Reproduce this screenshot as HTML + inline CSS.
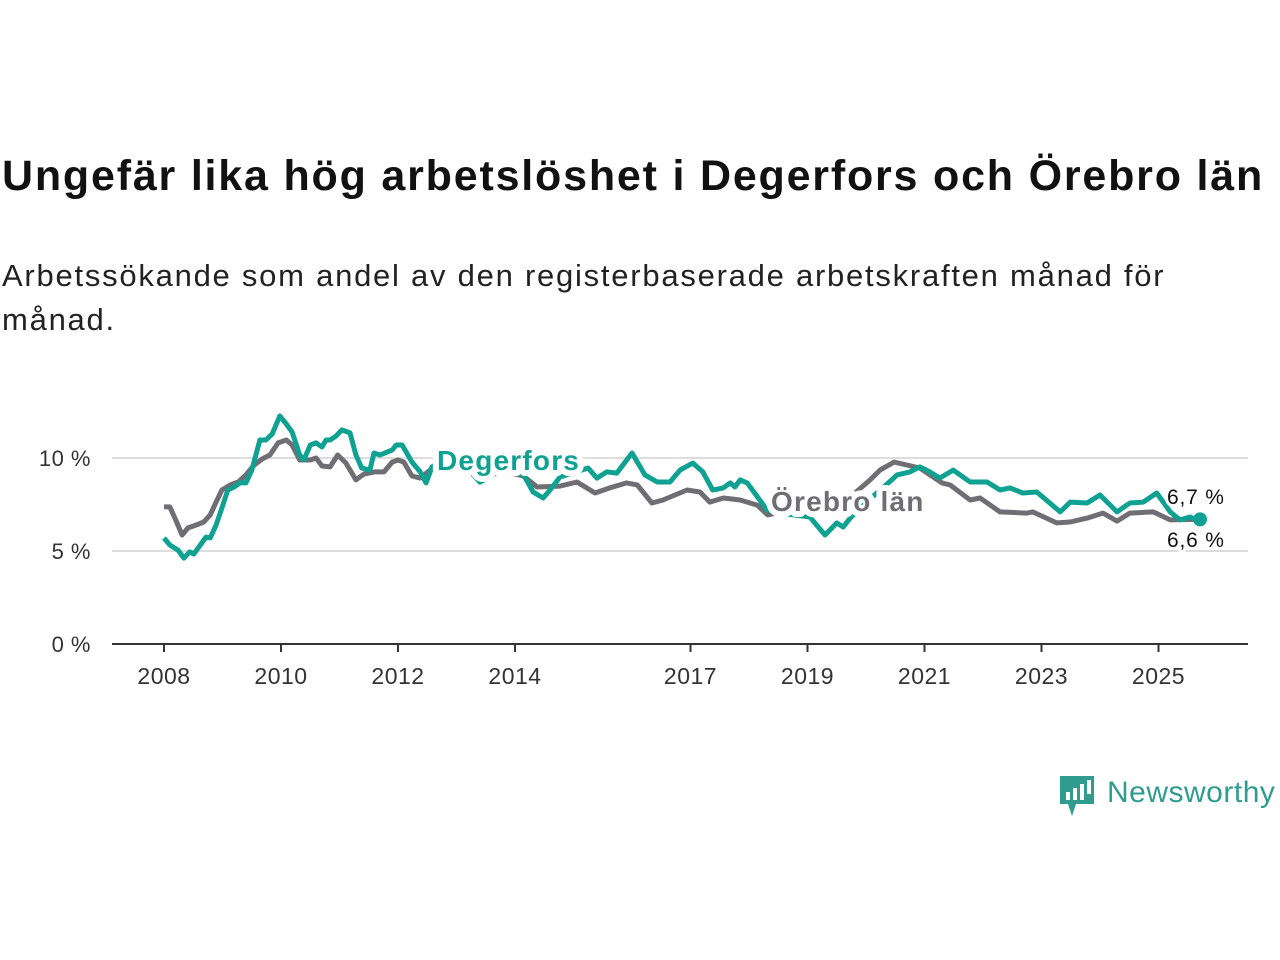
<!DOCTYPE html>
<html><head><meta charset="utf-8">
<style>
body{margin:0;background:#fff;width:1280px;height:960px;overflow:hidden;font-family:"Liberation Sans","DejaVu Sans",sans-serif;}
#title{position:absolute;left:2px;top:152px;font-size:43px;font-weight:bold;color:#111;letter-spacing:1.8px;white-space:nowrap}
#sub{position:absolute;left:2px;top:254px;font-size:31px;line-height:44px;color:#222;width:1200px;letter-spacing:1.75px}
svg{position:absolute;left:0;top:0}
</style></head><body>
<div id="title">Ungefär lika hög arbetslöshet i Degerfors och Örebro län</div>
<div id="sub">Arbetssökande som andel av den registerbaserade arbetskraften månad för månad.</div>
<svg id="chart" width="1280" height="960"></svg>
<script>
const yTicks=[0,5,10];
const yTickLabels=["0 %","5 %","10 %"];
const xTicks=[2008,2010,2012,2014,2017,2019,2021,2023,2025];
const grayYears=[2008,2008.1,2008.2,2008.31,2008.41,2008.55,2008.68,2008.79,2008.89,2008.99,2009.13,2009.27,2009.4,2009.54,2009.68,2009.81,2009.95,2010.09,2010.19,2010.32,2010.5,2010.6,2010.7,2010.84,2010.97,2011.11,2011.28,2011.42,2011.6,2011.76,2011.9,2012.0,2012.1,2012.24,2012.38,2012.51,2012.65,2013.0,2013.5,2013.85,2014.14,2014.38,2014.77,2015.06,2015.37,2015.62,2015.91,2016.09,2016.34,2016.53,2016.94,2017.16,2017.33,2017.56,2017.85,2018.14,2018.32,2018.7,2019.21,2019.73,2020.07,2020.24,2020.48,2020.92,2021.3,2021.44,2021.78,2021.95,2022.29,2022.75,2022.85,2023.26,2023.49,2023.78,2024.05,2024.29,2024.51,2024.91,2025.2,2025.66];
const grayValues=[7.37,7.37,6.67,5.86,6.24,6.4,6.56,6.94,7.63,8.28,8.55,8.71,9.09,9.62,9.95,10.16,10.81,10.97,10.7,9.89,9.89,10.0,9.57,9.52,10.16,9.73,8.82,9.14,9.25,9.25,9.78,9.89,9.78,9.03,8.92,9.25,9.62,9.4,9.45,9.25,9.03,8.44,8.49,8.71,8.12,8.39,8.66,8.55,7.58,7.74,8.28,8.17,7.63,7.85,7.74,7.47,6.94,7.2,7.6,7.9,8.82,9.35,9.78,9.46,8.66,8.55,7.74,7.85,7.1,7.04,7.1,6.51,6.56,6.77,7.04,6.61,7.04,7.1,6.67,6.7];
const tealYears=[2008,2008.1,2008.24,2008.34,2008.44,2008.51,2008.62,2008.72,2008.79,2008.89,2008.99,2009.09,2009.2,2009.3,2009.4,2009.5,2009.64,2009.74,2009.85,2009.98,2010.09,2010.19,2010.32,2010.39,2010.5,2010.6,2010.7,2010.77,2010.84,2010.94,2011.04,2011.18,2011.28,2011.38,2011.52,2011.59,2011.69,2011.9,2011.97,2012.07,2012.24,2012.38,2012.48,2012.58,2012.97,2013.4,2013.74,2014.14,2014.31,2014.48,2014.6,2014.77,2015.25,2015.4,2015.57,2015.74,2016.0,2016.22,2016.43,2016.65,2016.82,2017.04,2017.21,2017.38,2017.56,2017.68,2017.76,2017.85,2017.97,2018.31,2018.62,2019.04,2019.3,2019.5,2019.61,2019.73,2020.07,2020.44,2020.53,2020.75,2020.92,2021.09,2021.26,2021.49,2021.78,2022.07,2022.29,2022.46,2022.68,2022.92,2023.32,2023.49,2023.78,2024.0,2024.29,2024.51,2024.74,2024.97,2025.2,2025.37,2025.54,2025.71];
const tealValues=[5.7,5.32,5.05,4.62,4.95,4.84,5.32,5.75,5.7,6.4,7.31,8.28,8.44,8.66,8.66,9.35,10.97,10.97,11.29,12.26,11.83,11.4,10.16,9.89,10.7,10.81,10.59,10.97,10.97,11.18,11.51,11.35,10.16,9.46,9.35,10.27,10.16,10.43,10.7,10.7,9.78,9.25,8.66,9.52,10.2,8.7,9.3,9.14,8.17,7.85,8.28,8.98,9.46,8.92,9.25,9.19,10.27,9.09,8.71,8.71,9.35,9.73,9.25,8.28,8.39,8.66,8.44,8.82,8.66,7.2,7.0,6.83,5.86,6.51,6.29,6.77,7.8,8.82,9.09,9.25,9.52,9.25,8.92,9.35,8.71,8.71,8.28,8.39,8.12,8.17,7.1,7.63,7.58,8.01,7.1,7.58,7.63,8.12,7.1,6.67,6.83,6.6];
const NS='http://www.w3.org/2000/svg';
const svg=document.getElementById('chart');
const X0=164,PXY=58.5,Y0=644,PXV=18.6;
function xs(y){return X0+(y-2008)*PXY;}
function ys(v){return Y0-v*PXV;}
function mk(t,a,parent){const e=document.createElementNS(NS,t);for(const k in a)e.setAttribute(k,a[k]);(parent||svg).appendChild(e);return e;}
yTicks.forEach((t,i)=>{
  if(t>0){const g=mk('line',{x1:112,x2:1248,y1:ys(t),y2:ys(t),stroke:'#ddd','stroke-width':2});
  
  }
  const l=mk('text',{x:91,y:ys(t)+8,'text-anchor':'end','font-size':22,fill:'#333','letter-spacing':0.5});l.textContent=yTickLabels[i];
  
  
});
const ax=mk('line',{x1:112,x2:1248,y1:Y0,y2:Y0,stroke:'#333','stroke-width':2});


xTicks.forEach(t=>{
  mk('line',{x1:xs(t),x2:xs(t),y1:Y0,y2:Y0+8,stroke:'#333','stroke-width':2});
  const l=mk('text',{x:xs(t),y:Y0+40,'text-anchor':'middle','font-size':23,fill:'#333','letter-spacing':0.5});l.textContent=t;
  
  
});
function path(yrs,vals){return yrs.map((y,i)=>(i?'L':'M')+xs(y).toFixed(1)+','+ys(vals[i]).toFixed(1)).join('');}
const gl=mk('path',{d:path(grayYears,grayValues),fill:'none',stroke:'#6f6e75','stroke-width':5,'stroke-linejoin':'round'});


const tl=mk('path',{d:path(tealYears,tealValues),fill:'none',stroke:'#0fa293','stroke-width':5,'stroke-linejoin':'round'});


const dot=mk('circle',{cx:xs(tealYears[tealYears.length-1]),cy:ys(grayValues[grayValues.length-1]),r:7,fill:'#0fa293'});


function lab(txt,x,y,col,size,bold,name,ls){const t=mk('text',{x:x,y:y,'font-size':size,'font-weight':bold?'bold':'normal',fill:col,stroke:'#fff','stroke-width':bold?12:6,'paint-order':'stroke','stroke-linejoin':'round','letter-spacing':ls});t.textContent=txt;
  
  }
lab('Degerfors',437,470,'#0fa293',28,true,'degerfors-label',1.2);
lab('Örebro län',771,511,'#6f6e75',28,true,'orebro-lan-label',1.2);
lab('6,7 %',1167,504,'#111',21,false,'end-value-orebro',0.8);
lab('6,6 %',1167,547,'#111',21,false,'end-value-degerfors',0.8);
</script>
<svg width="1280" height="960" style="pointer-events:none">
<path d="M1060 776h34v28h-18l-4 12-4-12h-8z" fill="#2f9c8f"/>
<rect x="1066" y="792" width="4" height="8" fill="#fff"/><rect x="1073" y="788" width="4" height="12" fill="#fff"/><rect x="1080" y="784" width="4" height="16" fill="#fff"/><rect x="1087" y="780" width="4" height="14" fill="#fff"/>
<text x="1107" y="802" font-size="30" fill="#2f9c8f" font-family="Liberation Sans, sans-serif" letter-spacing="0.5">Newsworthy</text>
</svg>
</body></html>
